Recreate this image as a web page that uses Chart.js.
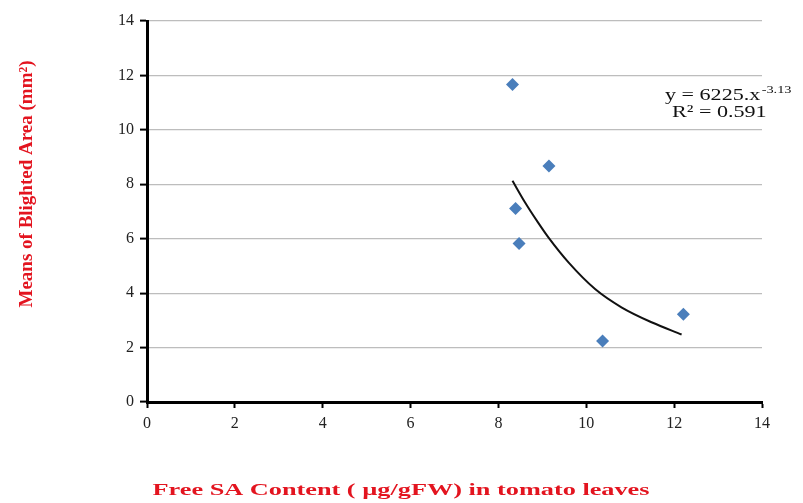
<!DOCTYPE html>
<html>
<head>
<meta charset="utf-8">
<script src="https://cdn.jsdelivr.net/npm/chart.js@4/dist/chart.umd.min.js"></script>
<style>
html,body{margin:0;padding:0;background:#fff;}
#wrap{width:803px;height:503px;position:relative;}
</style>
</head>
<body>
<div id="wrap"><canvas id="c" width="803" height="503"></canvas></div>
<script>
// Observed data: free SA content (x) vs means of blighted area (y)
const saContent = [8.32, 9.15, 8.39, 8.47, 10.37, 12.21];
const blightedArea = [11.67, 8.67, 7.11, 5.82, 2.24, 3.22];
// Power trendline
const trendX = [8.32, 8.60, 8.90, 9.15, 9.60, 10.20, 10.80, 11.50, 12.17];
const trendY = [8.13, 7.35, 6.60, 6.02, 5.12, 4.15, 3.48, 2.92, 2.48];
const xTicks = [0, 2, 4, 6, 8, 10, 12, 14];
const yTicks = [0, 2, 4, 6, 8, 10, 12, 14];
const xTitle = 'Free SA Content ( µg/gFW) in tomato leaves';
const yTitle = 'Means of Blighted Area (mm²)';
const eqLine1 = 'y = 6225.x';
const eqExp = '-3.13';
const eqLine2 = 'R² = 0.591';

const scatterPts = saContent.map((x, i) => ({x, y: blightedArea[i]}));
const trendPts = trendX.map((x, i) => ({x, y: trendY[i]}));

const textPlugin = {
  id: 'texts',
  afterDraw(chart) {
    const ctx = chart.ctx;
    ctx.save();
    // y title
    ctx.fillStyle = '#e3141f';
    ctx.font = 'bold 19px "Liberation Serif", serif';
    ctx.textAlign = 'center';
    ctx.textBaseline = 'middle';
    ctx.save();
    ctx.translate(27, 184);
    ctx.rotate(-Math.PI / 2);
    const wy = ctx.measureText(yTitle).width;
    ctx.scale(247 / wy, 1);
    ctx.fillText(yTitle, 0, 0);
    ctx.restore();
    // x title
    ctx.save();
    ctx.font = 'bold 17px "Liberation Serif", serif';
    ctx.translate(401, 491);
    const wx = ctx.measureText(xTitle).width;
    ctx.scale(497 / wx, 1);
    ctx.fillText(xTitle, 0, 0);
    ctx.restore();
    // equation
    ctx.fillStyle = '#111';
    ctx.textAlign = 'left';
    ctx.textBaseline = 'alphabetic';
    ctx.save();
    ctx.font = '17px "Liberation Serif", serif';
    ctx.translate(665, 100);
    ctx.scale(1.3, 1);
    ctx.fillText(eqLine1, 0, 0);
    const w1 = ctx.measureText(eqLine1).width;
    ctx.font = '11px "Liberation Serif", serif';
    ctx.fillText(eqExp, w1 + 1, -7);
    ctx.restore();
    ctx.save();
    ctx.font = '17px "Liberation Serif", serif';
    ctx.translate(672, 117);
    ctx.scale(1.3, 1);
    ctx.fillText(eqLine2, 0, 0);
    ctx.restore();
    ctx.restore();
  }
};

new Chart(document.getElementById('c'), {
  type: 'scatter',
  data: {
    datasets: [
      {
        label: 'Blighted area',
        data: scatterPts,
        pointStyle: 'rectRot',
        pointRadius: 6.5,
        pointHoverRadius: 6.5,
        backgroundColor: '#4a7ebb',
        borderColor: '#4a7ebb',
        borderWidth: 0,
        showLine: false
      },
      {
        label: 'Power trend',
        data: trendPts,
        showLine: true,
        pointRadius: 0,
        borderColor: '#111',
        borderWidth: 2,
        cubicInterpolationMode: 'monotone',
        fill: false
      }
    ]
  },
  options: {
    responsive: false,
    animation: false,
    layout: {padding: {left: 0, right: 41, top: 21, bottom: 0}},
    plugins: {legend: {display: false}, tooltip: {enabled: false}},
    scales: {
      x: {
        type: 'linear',
        min: 0, max: 14,
        afterBuildTicks(s) { s.ticks = xTicks.map(v => ({value: v})); },
        afterFit(s) { s.height = 101; },
        ticks: {
          color: '#222',
          font: {family: '"Liberation Serif", serif', size: 16},
          padding: 6,
          maxRotation: 0
        },
        grid: {drawOnChartArea: false, drawTicks: true, tickLength: 6, tickColor: '#000', tickWidth: 2},
        border: {color: '#000', width: 3}
      },
      y: {
        type: 'linear',
        min: 0, max: 14,
        afterBuildTicks(s) { s.ticks = yTicks.map(v => ({value: v})); },
        afterFit(s) { s.width = 147; },
        ticks: {
          color: '#222',
          font: {family: '"Liberation Serif", serif', size: 16},
          padding: 6
        },
        grid: {color: '#bdbdbd', lineWidth: 1.2, drawTicks: true, tickLength: 7, tickColor: '#000', tickWidth: 2},
        border: {color: '#000', width: 3}
      }
    }
  },
  plugins: [textPlugin]
});
</script>
</body>
</html>
